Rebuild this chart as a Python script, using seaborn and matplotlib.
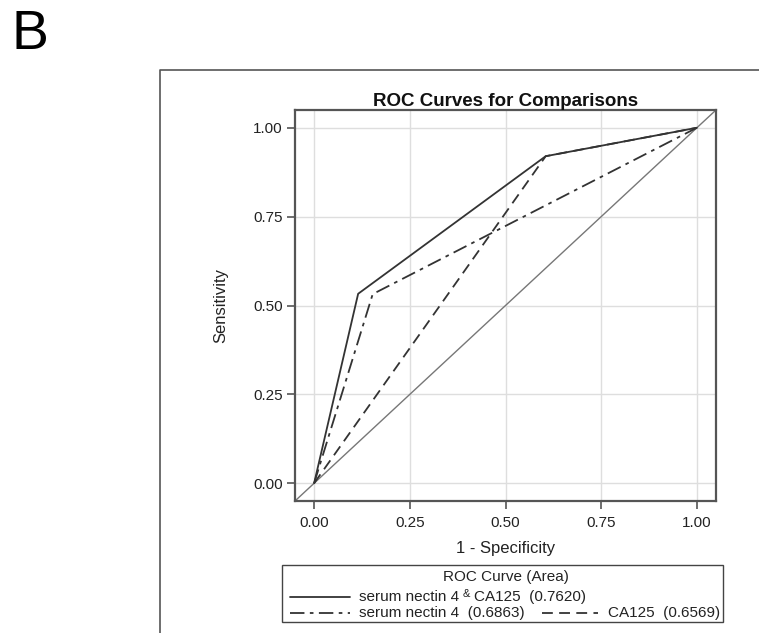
import matplotlib
matplotlib.use("Agg")
import matplotlib.pyplot as plt
from matplotlib.lines import Line2D
from matplotlib.patches import Rectangle
import seaborn as sns
import pandas as pd

# ---- data ----
fpr_combined = [0.0, 0.115, 0.605, 1.0]
tpr_combined = [0.0, 0.533, 0.920, 1.0]
fpr_nectin4 = [0.0, 0.153, 1.0]
tpr_nectin4 = [0.0, 0.532, 1.0]
fpr_ca125 = [0.0, 0.605, 1.0]
tpr_ca125 = [0.0, 0.920, 1.0]
ref_line = [-0.05, 1.05]
tick_vals = [0.0, 0.25, 0.5, 0.75, 1.0]
tick_labels = ["0.00", "0.25", "0.50", "0.75", "1.00"]
legend_names = ["serum nectin 4 & CA125  (0.7620)",
                "serum nectin 4  (0.6863)",
                "CA125  (0.6569)"]

sns.set_theme(style="white")
plt.rcParams["font.family"] = ["Liberation Sans", "DejaVu Sans"]

W, H = 759, 633
fig = plt.figure(figsize=(W / 100, H / 100), dpi=100)

def fx(px):
    return px / W

def fy(py):
    return 1 - py / H

# main axes
ax = fig.add_axes([fx(295), fy(501), (716 - 295) / W, (501 - 110) / H])
ax.set_xlim(-0.05, 1.05)
ax.set_ylim(-0.05, 1.05)
ax.set_xticks(tick_vals)
ax.set_xticklabels(tick_labels)
ax.set_yticks(tick_vals)
ax.set_yticklabels(tick_labels)
ax.grid(True, color="#dedede", linewidth=1.0)
ax.set_axisbelow(True)
for s in ax.spines.values():
    s.set_color("#555555")
    s.set_linewidth(1.6)
ax.tick_params(axis="both", direction="out", length=6, width=1.2,
               color="#555555", labelsize=11, labelcolor="#222222",
               bottom=True, left=True, pad=3)
ax.tick_params(axis="x", pad=5)

lc = "#333333"
df_ref = pd.DataFrame({"x": ref_line, "y": ref_line})
sns.lineplot(data=df_ref, x="x", y="y", ax=ax, color="#777777",
             linewidth=1.0, sort=False, estimator=None)
df_c = pd.DataFrame({"x": fpr_combined, "y": tpr_combined})
sns.lineplot(data=df_c, x="x", y="y", ax=ax, color=lc, linewidth=1.3,
             sort=False, estimator=None)
df_n = pd.DataFrame({"x": fpr_nectin4, "y": tpr_nectin4})
sns.lineplot(data=df_n, x="x", y="y", ax=ax, color=lc, linewidth=1.3,
             sort=False, estimator=None)
ax.lines[-1].set_dashes((8, 3, 2, 3))
df_a = pd.DataFrame({"x": fpr_ca125, "y": tpr_ca125})
sns.lineplot(data=df_a, x="x", y="y", ax=ax, color=lc, linewidth=1.3,
             sort=False, estimator=None)
ax.lines[-1].set_dashes((6, 3.5))

ax.set_xlabel("")
ax.set_ylabel("")
ax.set_title("ROC Curves for Comparisons", fontsize=13.5, fontweight="bold",
             color="#111111", pad=3)

fig.text(fx(505.5), fy(548), "1 - Specificity", ha="center", va="center",
         fontsize=12, color="#222222")
fig.text(fx(220.7), fy(305.5), "Sensitivity", ha="center", va="center",
         rotation=90, fontsize=12, color="#222222")

# panel label
fig.text(fx(12), fy(35), "B", ha="left", va="center", fontsize=40,
         color="black")

# outer frame
fig.add_artist(Line2D([fx(160), fx(160), fx(759)], [fy(633), fy(70), fy(70)],
                      transform=fig.transFigure, color="#555555", linewidth=1.2))

# legend box
fig.add_artist(Rectangle((fx(281.7), fy(621.7)), (722.7 - 281.7) / W,
                         (621.7 - 565) / H, transform=fig.transFigure,
                         fill=False, edgecolor="#444444", linewidth=1.0))
lfs = 11
fig.text(fx(506), fy(576.7), "ROC Curve (Area)", ha="center", va="center",
         fontsize=lfs, color="#222222")
rows = [(290, 350, 596.7, None, 359),
        (290, 350, 613.3, (8, 3, 2, 3), 359),
        (541.7, 598, 613.3, (6, 3.5), 608)]
for i, (x0, x1, yy, dash, tx) in enumerate(rows):
    ln = Line2D([fx(x0), fx(x1)], [fy(yy), fy(yy)], transform=fig.transFigure,
                color=lc, linewidth=1.3)
    if dash is not None:
        ln.set_dashes(dash)
    fig.add_artist(ln)
    name = legend_names[i]
    if "&" in name:
        a, b = name.split("&")
        t1 = fig.text(fx(tx), fy(yy), a.rstrip(), ha="left", va="center",
                      fontsize=lfs, color="#222222")
        amp = fig.add_artist(plt.Annotation("&", xy=(1, fy(yy - 3)),
                                            xycoords=(t1, "figure fraction"),
                                            xytext=(2.5, 0),
                                            textcoords="offset points",
                                            ha="left", va="center", fontsize=8,
                                            color="#222222"))
        fig.add_artist(plt.Annotation(b.strip(), xy=(1, fy(yy)),
                                      xycoords=(amp, "figure fraction"),
                                      xytext=(3, 0), textcoords="offset points",
                                      ha="left", va="center", fontsize=lfs,
                                      color="#222222"))
    else:
        fig.text(fx(tx), fy(yy), name, ha="left", va="center", fontsize=lfs,
                 color="#222222")

fig.savefig("out.png", dpi=100)
